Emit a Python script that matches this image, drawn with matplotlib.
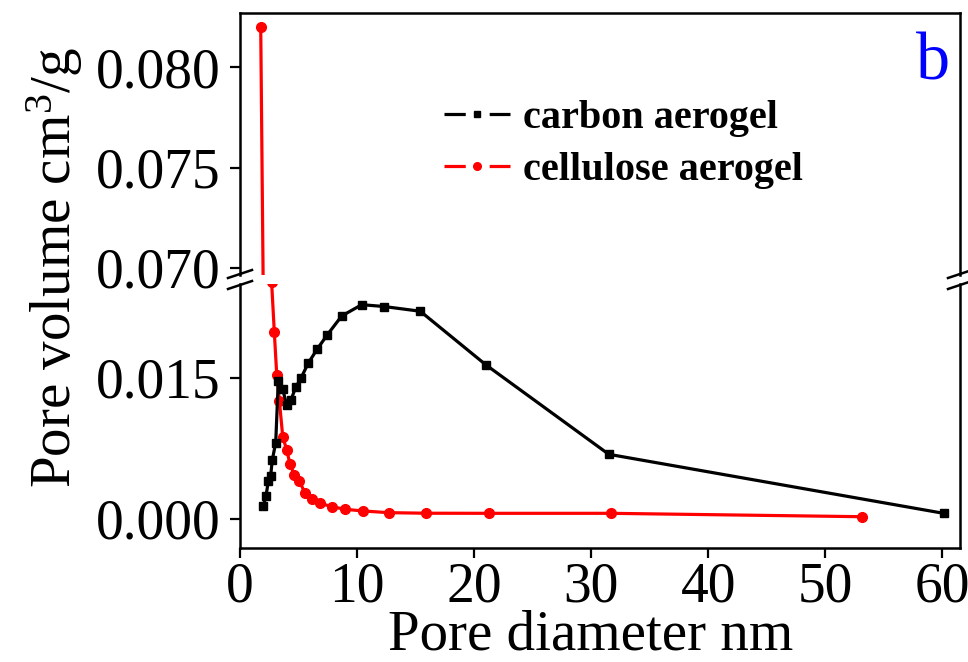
import matplotlib
matplotlib.use("Agg")
import matplotlib.pyplot as plt
from matplotlib.lines import Line2D

plt.rcParams['font.family'] = ['Liberation Serif', 'DejaVu Serif']
plt.rcParams['mathtext.fontset'] = 'custom'
plt.rcParams['mathtext.rm'] = 'Liberation Serif'
plt.rcParams['mathtext.it'] = 'Liberation Serif:italic'
plt.rcParams['lines.scale_dashes'] = False

# ---- data ----
carbon_x = [1.99, 2.22, 2.42, 2.62, 2.76, 3.05, 3.27, 3.65, 3.99, 4.36, 4.76, 5.21,
            5.84, 6.61, 7.46, 8.69, 10.4, 12.33, 15.4, 21.0, 31.5, 60.1]
carbon_y = [0.00138, 0.00245, 0.0040, 0.0046, 0.0063, 0.0081, 0.0147, 0.0138, 0.0121,
            0.0127, 0.0140, 0.0150, 0.0166, 0.0181, 0.0196, 0.0216, 0.0228, 0.0226,
            0.0221, 0.0164, 0.00688, 0.0006]

cellulose_x = [1.77, 2.7, 2.93, 3.14, 3.36, 3.65, 3.99, 4.27, 4.64, 5.07, 5.56, 6.13,
               6.84, 7.84, 8.97, 10.5, 12.7, 15.9, 21.3, 31.7, 53.1]
cellulose_y = [0.0820, 0.0252, 0.0199, 0.0153, 0.0126, 0.00876, 0.00734, 0.00585,
               0.00468, 0.00404, 0.00273, 0.0021, 0.00167, 0.00131, 0.00103, 0.00085,
               0.00067, 0.00061, 0.0006, 0.0006, 0.00024]

x_ticks = [0, 10, 20, 30, 40, 50, 60]
upper_ticks = [0.070, 0.075, 0.080]
lower_ticks = [0.000, 0.015]
labels = ["carbon aerogel", "cellulose aerogel"]

W, H = 968, 662
fig = plt.figure(figsize=(W / 100, H / 100), dpi=100)

def fx(px):
    return px / W

def fy(py):
    return 1 - py / H

left, right = 240, 960
top, brk_hi, brk_lo, bottom = 13, 275, 284, 548

ax_up = fig.add_axes([fx(left), fy(brk_hi), fx(right) - fx(left), fy(top) - fy(brk_hi)])
ax_lo = fig.add_axes([fx(left), fy(bottom), fx(right) - fx(left), fy(brk_lo) - fy(bottom)])

lw = 2.3
ms_sq, ms_ci = 6.3, 7.0
for ax in (ax_up, ax_lo):
    ax.plot(cellulose_x, cellulose_y, color='#ff0000', lw=lw, marker='o', ms=ms_ci,
            label=labels[1], zorder=3)
ax_lo.plot(carbon_x, carbon_y, color='black', lw=lw, marker='s', ms=ms_sq,
           label=labels[0], zorder=4)

xlim = (0, 61.5)
ax_up.set_xlim(*xlim)
ax_lo.set_xlim(*xlim)
ax_up.set_ylim(0.06965, 0.08269)
ax_lo.set_ylim(-0.00309, 0.0250)

tick_fs = 40
for ax in (ax_up, ax_lo):
    for s in ax.spines.values():
        s.set_linewidth(1.8)
    ax.tick_params(axis='both', which='major', direction='out', length=7, width=1.6,
                   labelsize=tick_fs, pad=3)
    ax.tick_params(axis='y', pad=7)

ax_up.spines['bottom'].set_visible(False)
ax_lo.spines['top'].set_visible(False)
ax_up.set_xticks([])
ax_up.set_yticks(upper_ticks)
ax_up.set_yticklabels([f"{v:.3f}" for v in upper_ticks])
ax_lo.set_yticks(lower_ticks)
ax_lo.set_yticklabels([f"{v:.3f}" for v in lower_ticks])
ax_lo.set_xticks(x_ticks)
ax_lo.set_xticklabels([str(v) for v in x_ticks])

# break marks
def slash(xc, yc):
    fig.add_artist(Line2D([fx(xc - 12), fx(xc + 12)], [fy(yc + 4), fy(yc - 4)],
                          color='black', lw=1.8, transform=fig.transFigure))

for xc in (left, right):
    slash(xc, brk_hi - 1)
    slash(xc, brk_lo + 1)

# labels
fig.text(fx(55), fy(268), r"Pore volume cm$^{3}$/g", rotation=90, fontsize=41,
         ha='center', va='center')
fig.text(fx(591), fy(636), "Pore diameter nm", fontsize=41, ha='center', va='center')
fig.text(fx(933), fy(80), "b", fontsize=49, color='#0000ff', ha='center', va='baseline')

# legend (Origin-style handle: line broken around the marker)
leg_fs = 29
hl = 1.65
seg = hl * leg_fs * 0.32
gap = hl * leg_fs - 2 * seg
h_black = Line2D([], [], color='black', lw=lw, marker='s', ms=5.0,
                 dashes=(seg, gap, seg, 200))
h_red = Line2D([], [], color='#ff0000', lw=lw, marker='o', ms=5.5,
               dashes=(seg, gap, seg, 200))
leg = fig.legend([h_black, h_red], labels, loc='upper left',
                 bbox_to_anchor=(fx(444), fy(100)), frameon=False,
                 prop={'family': 'Liberation Serif', 'weight': 'bold', 'size': leg_fs},
                 handlelength=hl, handletextpad=0.3, labelspacing=0.36,
                 borderpad=0, borderaxespad=0)

fig.savefig("out.png", dpi=100)
